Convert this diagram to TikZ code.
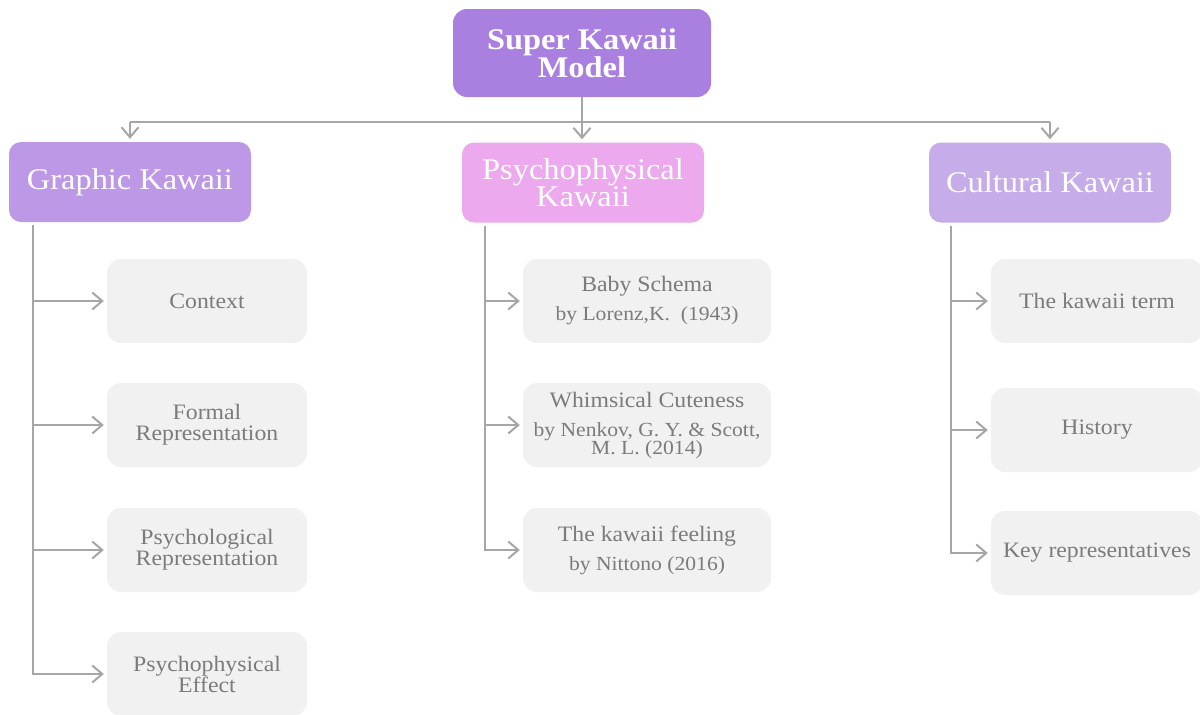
\documentclass[tikz,border=0pt]{standalone}
\usepackage{fontspec}
\setmainfont[FakeStretch=1.08]{Liberation Serif}
\usetikzlibrary{arrows.meta}
\definecolor{rootc}{HTML}{A980E0}
\definecolor{graphc}{HTML}{BC98E7}
\definecolor{psyc}{HTML}{ECA9EE}
\definecolor{cultc}{HTML}{C6ACE9}
\definecolor{leafc}{HTML}{F1F1F1}
\definecolor{leaftext}{HTML}{7B7B7B}
\definecolor{linec}{HTML}{A6A6A6}
\tikzset{
  rootbox/.style={rounded corners=14pt, fill=rootc, text=white, align=center,
    font=\fontsize{30}{28}\selectfont\bfseries, minimum width=258pt,
    minimum height=88pt, inner sep=0pt},
  catbox/.style={rounded corners=12pt, text=white, align=center,
    font=\fontsize{30}{25}\selectfont, minimum width=242pt,
    minimum height=80pt, inner sep=0pt},
  leafbox/.style={rounded corners=14pt, fill=leafc, text=leaftext, align=center,
    font=\fontsize{22}{21}\selectfont, minimum height=84pt, inner sep=0pt},
  leftleaf/.style={leafbox, minimum width=200pt},
  midleaf/.style={leafbox, minimum width=248pt},
  rightleaf/.style={leafbox, minimum width=212pt},
  conn/.style={draw=linec, line width=2pt},
  link/.style={conn, -{Straight Barb[length=10pt,width=17pt,line width=2pt]},
    shorten >=3pt}
}
\newcommand{\citefont}{\fontsize{20}{17}\selectfont}
\begin{document}
\begin{tikzpicture}[x=1pt, y=-1pt]
  \useasboundingbox (0,0) rectangle (1200,715);

  % root and the three categories
  \node[rootbox] (root) at (582,53) {Super Kawaii\\Model};
  \node[catbox, fill=graphc] (gk) at (130,182) {Graphic Kawaii};
  \node[catbox, fill=psyc] (pk) at (583,182.5) {Psychophysical\\Kawaii};
  \node[catbox, fill=cultc] (ck) at (1050,182.5) {Cultural Kawaii};

  % graphic kawaii topics
  \node[leftleaf] (ctx) at (207,301) {Context};
  \node[leftleaf] (formal) at (207,425) {Formal\\Representation};
  \node[leftleaf] (psyrep) at (207,550) {Psychological\\Representation};
  \node[leftleaf] (psyeff) at (207,674) {Psychophysical\\Effect};

  % psychophysical kawaii topics
  \node[midleaf] (baby) at (647,301)
    {Baby Schema\\[8pt]{\citefont by Lorenz,K.\ \ (1943)}};
  \node[midleaf] (whim) at (647,425)
    {Whimsical Cuteness\\[8pt]{\citefont by Nenkov, G. Y. \& Scott,}\\[-3pt]{\citefont M. L. (2014)}};
  \node[midleaf] (feel) at (647,550)
    {The kawaii feeling\\[8pt]{\citefont by Nittono (2016)}};

  % cultural kawaii topics
  \node[rightleaf] (term) at (1097,301) {The kawaii term};
  \node[rightleaf] (hist) at (1097,430) {History};
  \node[rightleaf] (keyrep) at (1097,553) {Key representatives};

  % root to categories
  \coordinate (bar) at (582,122);
  \draw[conn] (gk.north |- bar) -- (ck.north |- bar);
  \draw[link] (root.south) -- (root.south |- pk.north);
  \draw[link] (gk.north |- bar) -- (gk.north);
  \draw[link] (ck.north |- bar) -- (ck.north);

  % category trunks to topics
  \foreach \t in {ctx, formal, psyrep, psyeff}
    \draw[link, shorten <=3pt] ([xshift=24pt]gk.south west) |- (\t.west);
  \foreach \t in {baby, whim, feel}
    \draw[link, shorten <=3pt] ([xshift=23pt]pk.south west) |- (\t.west);
  \foreach \t in {term, hist, keyrep}
    \draw[link, shorten <=3pt] ([xshift=22pt]ck.south west) |- (\t.west);
\end{tikzpicture}
\end{document}
